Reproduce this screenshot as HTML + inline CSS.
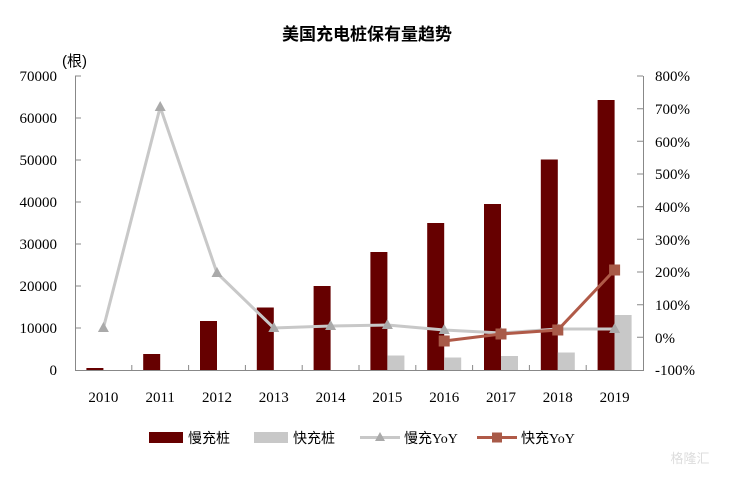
<!DOCTYPE html><html><head><meta charset="utf-8"><style>body{margin:0;background:#fff}</style></head><body>
<svg width="735" height="476" xmlns="http://www.w3.org/2000/svg" font-family="Liberation Serif, 'Noto Serif CJK SC', serif">
<text x="367" y="40" text-anchor="middle" font-size="17" font-weight="bold" font-family="'Noto Sans CJK SC',sans-serif">美国充电桩保有量趋势</text>
<text x="62" y="66" font-size="15" font-family="'Liberation Sans','Noto Sans CJK SC',sans-serif">(根)</text>
<g font-size="15" text-anchor="end">
<text x="57" y="81">70000</text><text x="57" y="123">60000</text><text x="57" y="165">50000</text><text x="57" y="207">40000</text><text x="57" y="249">30000</text><text x="57" y="291">20000</text><text x="57" y="333">10000</text><text x="57" y="375">0</text>
</g>
<g font-size="15">
<text x="655" y="81">800%</text><text x="655" y="114">700%</text><text x="655" y="147">600%</text><text x="655" y="179">500%</text><text x="655" y="212">400%</text><text x="655" y="245">300%</text><text x="655" y="277">200%</text><text x="655" y="310">100%</text><text x="655" y="343">0%</text><text x="655" y="375">-100%</text>
</g>
<g stroke="#888" stroke-width="1" fill="none">
<path d="M75.5 76V370.5H643.5V76"/>
<path d="M75 76h6M75 118h6M75 160h6M75 202h6M75 244h6M75 286h6M75 328h6"/>
<path d="M643 76h-6M643 108.7h-6M643 141.3h-6M643 174h-6M643 206.7h-6M643 239.3h-6M643 272h-6M643 304.7h-6M643 337.3h-6"/>
<path d="M131.8 370v-5M188.6 370v-5M245.4 370v-5M302.2 370v-5M359 370v-5M415.8 370v-5M472.6 370v-5M529.4 370v-5M586.2 370v-5"/>
</g>
<g fill="#660000">
<rect x="86.4" y="368" width="17" height="2"/>
<rect x="143.2" y="354" width="17" height="16"/>
<rect x="200" y="321" width="17" height="49"/>
<rect x="256.8" y="307.5" width="17" height="62.5"/>
<rect x="313.6" y="286" width="17" height="84"/>
<rect x="370.4" y="252" width="17" height="118"/>
<rect x="427.2" y="223" width="17" height="147"/>
<rect x="484" y="204" width="17" height="166"/>
<rect x="540.8" y="159.5" width="17" height="210.5"/>
<rect x="597.6" y="100" width="17" height="270"/>
</g>
<g fill="#c8c8c8">
<rect x="387.4" y="355.5" width="17" height="14.5"/>
<rect x="444.2" y="357.5" width="17" height="12.5"/>
<rect x="501" y="356" width="17" height="14"/>
<rect x="557.8" y="352.5" width="17" height="17.5"/>
<rect x="614.6" y="315" width="17" height="55"/>
</g>
<polyline fill="none" stroke="#c8c8c8" stroke-width="3" points="103.4,328 160.2,107 217,273 273.8,328 330.6,326 387.4,325 444.2,330 501,333 557.8,329 614.6,329"/>
<g fill="#aaa">
<path d="M103.4 322l-5.5 10h11z"/><path d="M160.2 101l-5.5 10h11z"/><path d="M217 267l-5.5 10h11z"/><path d="M273.8 322l-5.5 10h11z"/><path d="M330.6 320l-5.5 10h11z"/><path d="M387.4 319l-5.5 10h11z"/><path d="M444.2 324l-5.5 10h11z"/><path d="M501 327l-5.5 10h11z"/><path d="M557.8 323l-5.5 10h11z"/><path d="M614.6 323l-5.5 10h11z"/>
</g>
<polyline fill="none" stroke="#b05a48" stroke-width="3" points="444.2,341 501,334 557.8,330 614.6,270"/>
<g fill="#a85a48">
<rect x="438.7" y="335.5" width="11" height="11"/><rect x="495.5" y="328.5" width="11" height="11"/><rect x="552.3" y="324.5" width="11" height="11"/><rect x="609.1" y="264.5" width="11" height="11"/>
</g>
<g font-size="15" text-anchor="middle">
<text x="103.4" y="402">2010</text><text x="160.2" y="402">2011</text><text x="217" y="402">2012</text><text x="273.8" y="402">2013</text><text x="330.6" y="402">2014</text><text x="387.4" y="402">2015</text><text x="444.2" y="402">2016</text><text x="501" y="402">2017</text><text x="557.8" y="402">2018</text><text x="614.6" y="402">2019</text>
</g>
<g font-size="14" font-family="'Noto Sans CJK SC',sans-serif">
<rect x="149" y="432" width="34" height="11" fill="#660000"/><text x="188" y="443">慢充桩</text>
<rect x="254" y="432" width="34" height="11" fill="#c8c8c8"/><text x="293" y="443">快充桩</text>
<line x1="360" y1="437.5" x2="400" y2="437.5" stroke="#c8c8c8" stroke-width="3"/><path d="M380 432l-5 9h10z" fill="#aaa"/><text x="404" y="443">慢充<tspan font-family="Liberation Serif,serif">YoY</tspan></text>
<line x1="477" y1="437.5" x2="517" y2="437.5" stroke="#b05a48" stroke-width="3"/><rect x="492" y="432.5" width="10" height="10" fill="#a85a48"/><text x="521" y="443">快充<tspan font-family="Liberation Serif,serif">YoY</tspan></text>
</g>
<text x="690" y="463" font-size="13" fill="#ddd" text-anchor="middle" font-family="'Noto Sans CJK SC',sans-serif">格隆汇</text>
</svg>
</body></html>
